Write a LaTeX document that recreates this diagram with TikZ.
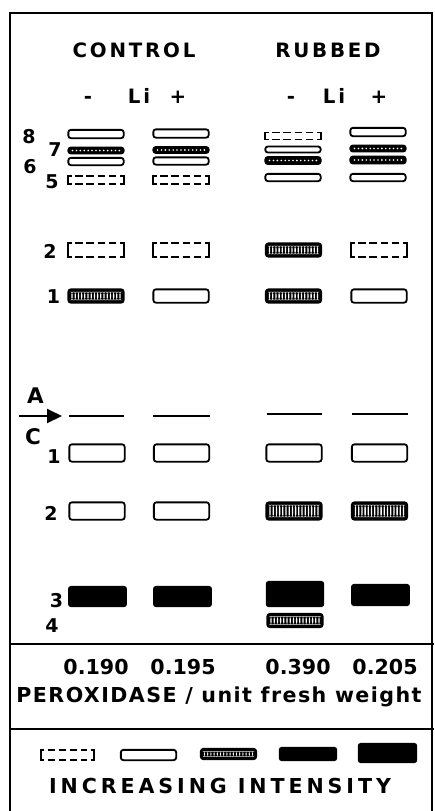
\documentclass[tikz,border=0pt]{standalone}
\usepackage{fontspec}
\setmainfont{DejaVu Sans}
\newfontfamily\hdrfont[LetterSpace=14]{DejaVu Sans}
\newfontfamily\unitfont[LetterSpace=7]{DejaVu Sans}
\newfontfamily\legfont[LetterSpace=19]{DejaVu Sans}
\usetikzlibrary{arrows.meta}
\tikzset{
  band/.style={rectangle, inner sep=0pt, outer sep=0pt, minimum width=55.3pt,
    rounded corners=2.5pt, line width=1.8pt},
  outlineband/.style={band, draw, fill=white},
  solidband/.style={band, draw, fill=black, rounded corners=2pt},
  stippleband/.style={band, draw, fill=black, path picture={
      \foreach \k in {0,...,12}
        \fill[white] ([xshift={4.2pt+\k*3.9pt}]path picture bounding box.west) circle (0.9pt);}},
  hatchband/.style={band, draw, fill=black, path picture={
      \foreach \k in {0,...,15}
        \fill[white] ([xshift={3.0pt+\k*3.2pt}, yshift=-2.6pt]path picture bounding box.north west)
          rectangle ([xshift={4.3pt+\k*3.2pt}, yshift=2.6pt]path picture bounding box.south west);}},
  faintline/.style={line width=1.8pt, line cap=butt, line join=miter},
  faintband/.style={band, draw=none, append after command={
      ([xshift=3.5pt]\tikzlastnode.north west) edge[faintline, to path={-| (\tikztotarget) -- ++(3.5pt,0)}] (\tikzlastnode.south west)
      ([xshift=-3.5pt]\tikzlastnode.north east) edge[faintline, to path={-| (\tikztotarget) -- ++(-3.5pt,0)}] (\tikzlastnode.south east)
      ([xshift=7pt]\tikzlastnode.north west) edge[faintline, dash pattern=on 7.3pt off 3.8pt] ([xshift=-6.8pt]\tikzlastnode.north east)
      ([xshift=7pt]\tikzlastnode.south west) edge[faintline, dash pattern=on 7.3pt off 3.8pt] ([xshift=-6.8pt]\tikzlastnode.south east)
  }},
  hdr/.style={font=\fontsize{19.8}{20}\hdrfont\bfseries, inner sep=0pt, anchor=base},
  lbl/.style={font=\fontsize{19}{20}\selectfont\bfseries, inner sep=0pt, anchor=base},
  albl/.style={font=\fontsize{21.5}{22}\selectfont\bfseries, inner sep=0pt, anchor=base},
  val/.style={font=\fontsize{20.6}{22}\selectfont\bfseries, inner sep=0pt, anchor=base},
  unittxt/.style={font=\fontsize{20.6}{22}\unitfont\bfseries, inner sep=0pt, anchor=base},
  leg/.style={font=\fontsize{20.6}{22}\legfont\bfseries, inner sep=0pt, anchor=base},
  frame/.style={line width=2pt},
  origin/.style={line width=1.8pt},
}
\begin{document}
\begin{tikzpicture}[x=1pt,y=-1pt]
\useasboundingbox (0,0) rectangle (434,811);
% frame
\coordinate (fbl) at (10,811);
\coordinate (ftl) at (10,13);
\coordinate (ftr) at (432,13);
\coordinate (fbr) at (432,811);
\draw[frame, line join=miter] (fbl) -- (ftl) -- (ftr) -- (fbr);
\coordinate (d1l) at (10,644); \coordinate (d1r) at (434,644);
\coordinate (d2l) at (10,729); \coordinate (d2r) at (434,729);
\draw[frame] (d1l) -- (d1r);
\draw[frame] (d2l) -- (d2r);

% headers
\node[hdr] (tctrl) at (134,57) {CONTROL};
\node[hdr] (trub) at (328,57) {RUBBED};
\node[hdr] (cm) at (88,103) {-};
\node[hdr] (cli) at (139,103) {Li};
\node[hdr] (cp) at (178,103) {+};
\node[hdr] (rm) at (291,103) {-};
\node[hdr] (rli) at (334,103) {Li};
\node[hdr] (rp) at (379,103) {+};

% labels
\node[lbl] (l8) at (29,143) {8};
\node[lbl] (l7) at (55,156) {7};
\node[lbl] (l6) at (30,173) {6};
\node[lbl] (l5) at (52,188) {5};
\node[lbl] (l2a) at (50,258) {2};
\node[lbl] (l1a) at (53.5,303) {1};
\node[albl] (la) at (35.5,403) {A};
\node[albl] (lc) at (33,444) {C};
\node[lbl] (l1c) at (54,463) {1};
\node[lbl] (l2c) at (51,520) {2};
\node[lbl] (l3c) at (56.5,607) {3};
\node[lbl] (l4c) at (52,632) {4};

% top bands
\node[outlineband, minimum height=8.3pt] (a8) at (96,134) {};
\node[stippleband, minimum height=6pt] (a7) at (96,150.5) {};
\node[outlineband, minimum height=7.3pt] (a6) at (96,161.5) {};
\node[faintband, minimum height=8.3pt] (a5) at (96,180) {};
\node[outlineband, minimum height=8.3pt] (b8) at (181,133.5) {};
\node[stippleband, minimum height=6pt] (b7) at (181,150) {};
\node[outlineband, minimum height=7.3pt] (b6) at (181,161) {};
\node[faintband, minimum height=8.3pt] (b5) at (181,180) {};
\node[faintband, minimum height=7pt] (c8) at (293,136) {};
\node[outlineband, minimum height=6pt] (c7) at (293,149.5) {};
\node[stippleband, minimum height=7pt] (c6) at (293,160.5) {};
\node[outlineband, minimum height=7.3pt] (c5) at (293,177.5) {};
\node[outlineband, minimum height=8.3pt] (d8) at (378,132) {};
\node[stippleband, minimum height=6pt] (d7) at (378,148.5) {};
\node[stippleband, minimum height=7pt] (d6) at (378,160) {};
\node[outlineband, minimum height=7.3pt] (d5) at (378,177.5) {};

% anodic bands 2 and 1
\node[faintband, minimum height=13.3pt] (a2) at (96,250) {};
\node[faintband, minimum height=13.3pt] (b2) at (181,250) {};
\node[hatchband, minimum height=13.3pt] (c2) at (293.5,250) {};
\node[faintband, minimum height=13.3pt] (d2) at (379,250) {};
\node[hatchband, minimum height=13.3pt] (a1) at (96,296) {};
\node[outlineband, minimum height=13.3pt] (b1) at (181,296) {};
\node[hatchband, minimum height=13.3pt] (c1) at (293.5,296) {};
\node[outlineband, minimum height=13.3pt] (d1) at (379,296) {};

% origin
\coordinate (arrS) at (19,416);
\coordinate (arrE) at (62,416);
\draw[line width=2pt, -{Triangle[length=15pt,width=14pt]}] (arrS) -- (arrE);
\coordinate (oa1) at (69,416); \coordinate (oa2) at (124,416);
\coordinate (ob1) at (153,416); \coordinate (ob2) at (210,416);
\coordinate (oc1) at (267,414); \coordinate (oc2) at (322,414);
\coordinate (od1) at (352,414); \coordinate (od2) at (408,414);
\draw[origin] (oa1) -- (oa2);
\draw[origin] (ob1) -- (ob2);
\draw[origin] (oc1) -- (oc2);
\draw[origin] (od1) -- (od2);

% cathodic bands
\node[outlineband, minimum height=17.3pt] (ca1) at (97,453) {};
\node[outlineband, minimum height=17.3pt] (cb1) at (181.5,453) {};
\node[outlineband, minimum height=17.3pt] (cc1) at (294,453) {};
\node[outlineband, minimum height=17.3pt] (cd1) at (379.5,453) {};
\node[outlineband, minimum height=17.3pt] (ca2) at (97,511) {};
\node[outlineband, minimum height=17.3pt] (cb2) at (181.5,511) {};
\node[hatchband, minimum height=17.3pt] (cc2) at (294,511) {};
\node[hatchband, minimum height=17.3pt] (cd2) at (379.5,511) {};
\node[solidband, minimum height=19.3pt, minimum width=57pt] (ca3) at (97.5,596.5) {};
\node[solidband, minimum height=19.3pt, minimum width=57pt] (cb3) at (182.5,596.5) {};
\node[solidband, minimum height=24.3pt, minimum width=56.5pt] (cc3) at (295,594) {};
\node[solidband, minimum height=20.3pt, minimum width=57pt] (cd3) at (380.5,595) {};
\node[hatchband, minimum height=13.3pt] (cc4) at (295,620.5) {};

% values
\node[val] (v1) at (96,674) {0.190};
\node[val] (v2) at (183,674) {0.195};
\node[val] (v3) at (298,674) {0.390};
\node[val] (v4) at (385,674) {0.205};
\node[unittxt] (unit) at (219,702) {PEROXIDASE / unit fresh weight};

% legend
\node[faintband, minimum height=10.3pt, minimum width=53.5pt] (g1) at (67.5,755) {};
\node[outlineband, minimum height=10.3pt] (g2) at (148.5,755) {};
\node[hatchband, minimum height=10.3pt] (g3) at (228.5,754) {};
\node[solidband, minimum height=12.3pt, minimum width=56.5pt] (g4) at (308,754) {};
\node[solidband, minimum height=18.3pt, minimum width=57.5pt] (g5) at (387.5,753) {};
\node[leg] (inc) at (220,793) {INCREASING INTENSITY};
\end{tikzpicture}
\end{document}
